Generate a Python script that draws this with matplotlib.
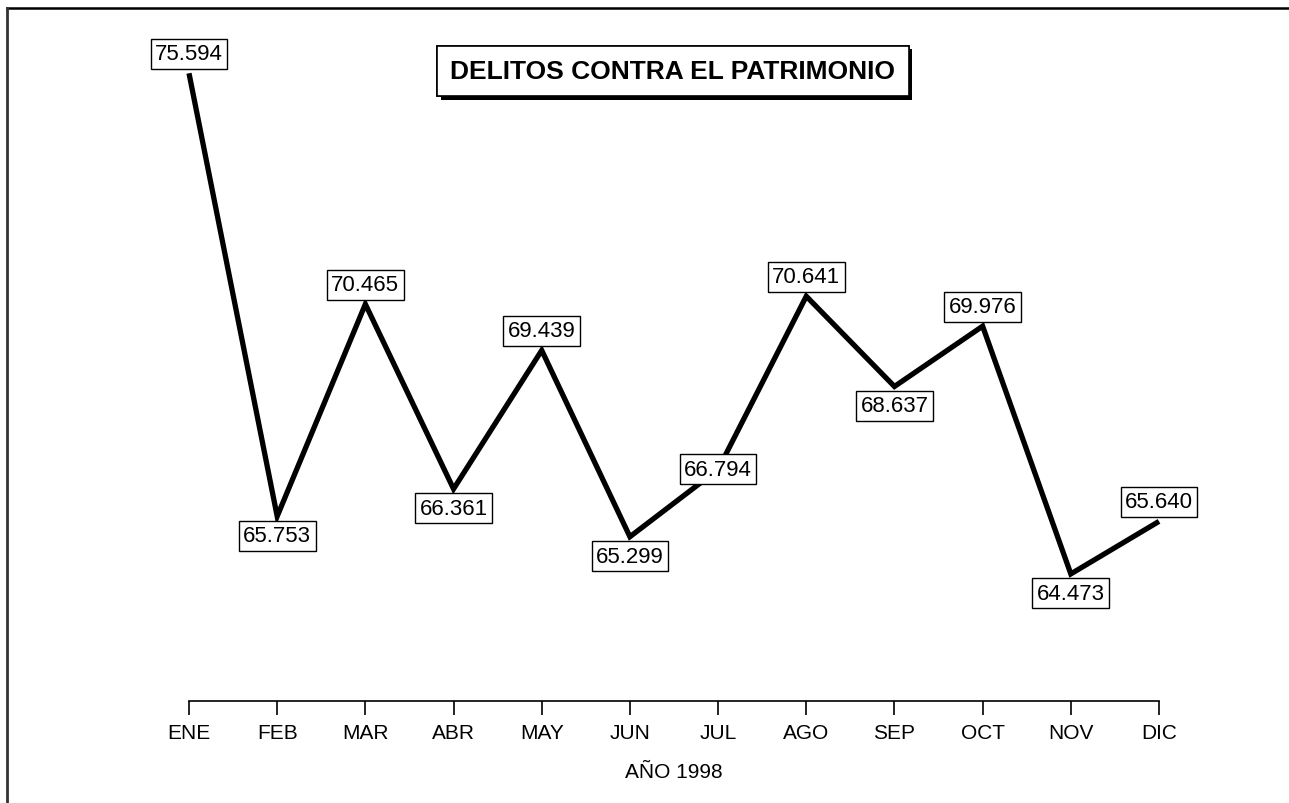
import matplotlib
matplotlib.use("Agg")
import matplotlib.pyplot as plt
import matplotlib.patheffects as pe
from matplotlib.lines import Line2D

meses = ["ENE", "FEB", "MAR", "ABR", "MAY", "JUN",
         "JUL", "AGO", "SEP", "OCT", "NOV", "DIC"]
delitos = [75.594, 65.753, 70.465, 66.361, 69.439, 65.299,
           66.794, 70.641, 68.637, 69.976, 64.473, 65.640]
etiquetas = ["75.594", "65.753", "70.465", "66.361", "69.439", "65.299",
             "66.794", "70.641", "68.637", "69.976", "64.473", "65.640"]

# where each value label goes: +1 above the point, -1 below, 0 on it
lado = [1, -1, 1, -1, 1, -1, 0, 1, -1, 1, -1, 1]

plt.rcParams['font.family'] = ['Liberation Sans', 'DejaVu Sans']

fig = plt.figure(figsize=(12.89, 8.04), dpi=100)
ax = fig.add_axes([189 / 1289, 102 / 804, 970 / 1289, 682 / 804])

x = list(range(len(meses)))
ax.plot(x, delitos, color='black', lw=3.8, solid_joinstyle='miter',
        solid_capstyle='butt', clip_on=False)

for i, (v, txt) in enumerate(zip(delitos, etiquetas)):
    ax.annotate(txt, (i, v), xytext=(0, 14 * lado[i]),
                textcoords='offset points', ha='center', va='center',
                fontsize=16, zorder=5,
                bbox=dict(boxstyle='square,pad=0.2', fc='white',
                          ec='black', lw=1.0))

ax.set_xlim(0, 11)
ax.set_ylim(61.65, 76.8)
ax.set_xticks(x)
ax.set_xticklabels(meses, fontsize=15)
ax.set_yticks([])
ax.tick_params(axis='x', direction='out', length=10, width=1.2, pad=6)
for s in ['left', 'right', 'top']:
    ax.spines[s].set_visible(False)
ax.spines['bottom'].set_linewidth(1.2)
ax.set_xlabel("AÑO 1998", fontsize=15, labelpad=14)

titulo = fig.text(673 / 1289, 1 - 72 / 804, "DELITOS CONTRA EL PATRIMONIO",
                  ha='center', va='center', fontsize=19, fontweight='bold',
                  bbox=dict(boxstyle='square,pad=0.5', fc='white',
                            ec='black', lw=1.2))
titulo.get_bbox_patch().set_path_effects(
    [pe.withSimplePatchShadow(offset=(2.5, -2.5), shadow_rgbFace='black',
                              alpha=1.0), pe.Normal()])

# frame lines on top and left
fig.add_artist(Line2D([7 / 1289, 1], [1 - 9 / 804, 1 - 9 / 804],
                      color='black', lw=1.8, transform=fig.transFigure))
fig.add_artist(Line2D([7 / 1289, 7 / 1289], [0, 1 - 9 / 804],
                      color='#333333', lw=2.0, transform=fig.transFigure))

fig.savefig("out.png", dpi=100)
